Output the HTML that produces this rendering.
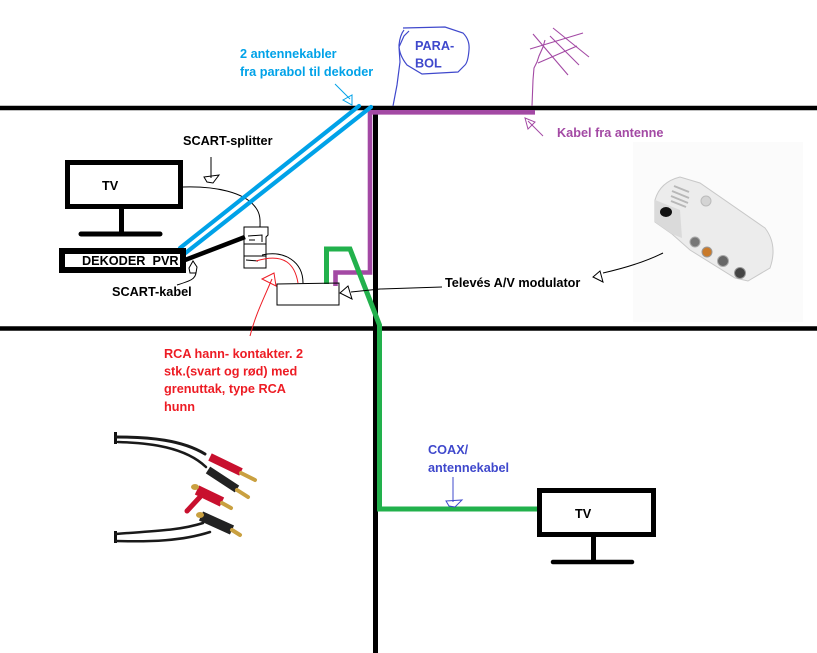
<!DOCTYPE html>
<html><head><meta charset="utf-8"><style>
html,body{margin:0;padding:0;background:#fff;}
svg{display:block;}
text{font-family:"Liberation Sans",sans-serif;font-weight:bold;font-size:12.7px;}
</style></head><body>
<svg width="817" height="653" viewBox="0 0 817 653" xmlns="http://www.w3.org/2000/svg">
<rect width="817" height="653" fill="#fff"/>
<!-- televes image background -->
<rect x="633" y="142" width="170" height="180" fill="#fbfbfb"/>

<!-- walls -->
<line x1="0" y1="108" x2="817" y2="108" stroke="#000" stroke-width="4.5"/>
<line x1="0" y1="328.5" x2="817" y2="328.5" stroke="#000" stroke-width="4.6"/>
<line x1="375.5" y1="106" x2="375.5" y2="653" stroke="#000" stroke-width="5"/>

<!-- purple cable -->
<polyline points="535,112.3 370,112.3 370,272.5 335.5,272.5 335.5,286" fill="none" stroke="#a349a4" stroke-width="4.6"/>

<!-- green cable -->
<polyline points="326.5,284 326.5,249 350,249 379.5,325 379.5,509 538,509" fill="none" stroke="#22b14c" stroke-width="5"/>

<!-- thin black curves -->
<path d="M183,187 C215,186 245,192 256,208 C261,215 260,222 260,227" fill="none" stroke="#000" stroke-width="1"/>
<path d="M262,255 C285,250 303,262 303,283" fill="none" stroke="#000" stroke-width="1"/>

<!-- splitter -->
<g fill="none" stroke="#000" stroke-width="1">
<path d="M244,227 L268,227 L268,235 L266,237 L266,268 L244,268 Z"/>
<line x1="244" y1="244" x2="266" y2="244"/>
<line x1="244" y1="256" x2="266" y2="256"/>
<path d="M248,236 L262,235 L262,242 M249,240 L255,240"/>
<path d="M246,260 L258,261"/>
</g>

<!-- red curve + arrow -->
<path d="M256,261 C285,252 295,265 298,283" fill="none" stroke="#ed1c24" stroke-width="1"/>
<path d="M250,336 C255,316 263,300 272,279" fill="none" stroke="#ed1c24" stroke-width="1"/>
<polygon points="262,279 274,273 276,286" fill="none" stroke="#ed1c24" stroke-width="1"/>

<!-- modulator box -->
<path d="M277,284 L339,283 L339,305 L277,305 Z" fill="none" stroke="#000" stroke-width="1"/>

<!-- blue cables -->
<line x1="180" y1="248" x2="359" y2="106" stroke="#00a2e8" stroke-width="4.2" stroke-linecap="round"/>
<line x1="185.5" y1="253" x2="371" y2="107" stroke="#00a2e8" stroke-width="4.2" stroke-linecap="round"/>

<!-- SCART cable thick -->
<line x1="185" y1="260" x2="245" y2="237" stroke="#000" stroke-width="4.5"/>

<!-- TV upper -->
<rect x="67.5" y="162.5" width="113" height="44" fill="none" stroke="#000" stroke-width="5"/>
<rect x="119" y="209" width="5" height="23" fill="#000"/>
<line x1="81" y1="234" x2="160" y2="234" stroke="#000" stroke-width="5" stroke-linecap="round"/>
<text x="102" y="190" font-size="12.5" fill="#000">TV</text>

<!-- decoder -->
<rect x="62" y="251" width="121" height="19" fill="#fff" stroke="#000" stroke-width="6"/>
<text x="82" y="265" font-size="11.8" fill="#000">DEKODER&#160;&#160;PVR</text>

<!-- TV lower -->
<rect x="539.5" y="490.5" width="114" height="44" fill="none" stroke="#000" stroke-width="5"/>
<rect x="591" y="537" width="5" height="24" fill="#000"/>
<line x1="553" y1="562" x2="632" y2="562" stroke="#000" stroke-width="4.5" stroke-linecap="round"/>
<text x="575" y="518" font-size="12.5" fill="#000">TV</text>

<!-- PARABOL -->
<path d="M393,106 L397,85 L400,62 L399,47 L404,36 L409,31 M403,28 L445,27 L463,33 Q470,40 469,50 Q468,62 465,65 L458,72 L422,74 L407,65 Q399,55 399,45 Q400,35 404,30" fill="none" stroke="#3f48cc" stroke-width="1.2"/>
<text x="415" y="50" fill="#3f48cc">PARA-</text>
<text x="415" y="67.5" fill="#3f48cc">BOL</text>

<!-- antenna -->
<g fill="none" stroke="#a349a4" stroke-width="1.1">
<path d="M532,106 L533,80 L534,68 L537,62 L539,56 L543,47 L545,40"/>
<path d="M530,49 L583,33"/>
<path d="M533,34 L568,75"/>
<path d="M553,28 L589,57"/>
<path d="M550,36 L579,65"/>
<path d="M538,63 L577,46"/>
</g>

<!-- blue label -->
<text x="240" y="58" fill="#00a2e8">2 antennekabler</text>
<text x="240" y="76" fill="#00a2e8">fra parabol til dekoder</text>
<path d="M335,84 L350,99" fill="none" stroke="#00a2e8" stroke-width="1"/>
<polygon points="343,100 352,95 352,105" fill="none" stroke="#00a2e8" stroke-width="1"/>

<!-- kabel fra antenne -->
<text x="557" y="137" fill="#a349a4">Kabel fra antenne</text>
<path d="M543,136 L528,121" fill="none" stroke="#a349a4" stroke-width="1"/>
<polygon points="525,118 535,122 528,129" fill="none" stroke="#a349a4" stroke-width="1"/>

<!-- SCART-splitter -->
<text x="183" y="145" fill="#000">SCART-splitter</text>
<path d="M211,157 L211,178" stroke="#000" stroke-width="1"/>
<polygon points="204,177 219,175 213,183 207,182" fill="none" stroke="#000" stroke-width="1"/>

<!-- SCART-kabel -->
<text x="112" y="296" fill="#000">SCART-kabel</text>
<path d="M196,272 C196,279 190,281 177,285" fill="none" stroke="#000" stroke-width="1"/>
<polygon points="189,268 193,261 197,267 196,273 190,273" fill="none" stroke="#000" stroke-width="1"/>

<!-- Televes label -->
<text x="445" y="287" fill="#000">Televés A/V modulator</text>
<path d="M442,287 L380,289 L351,292" fill="none" stroke="#000" stroke-width="1"/>
<polygon points="340,293 348,286 352,299" fill="none" stroke="#000" stroke-width="1"/>
<path d="M663,253 C645,262 625,268 603,273" fill="none" stroke="#000" stroke-width="1"/>
<polygon points="593,277 600,271 603,282" fill="none" stroke="#000" stroke-width="1"/>

<!-- Televes device -->
<path d="M655,200 Q660,182 680,177 L700,183 L765,228 Q778,245 770,268 L748,281 L735,278 L690,250 L672,234 L655,222 Z" fill="#ececec" stroke="#c8c8c8" stroke-width="1"/>
<path d="M655,200 L680,210 L682,238 L672,234 L655,222 Z" fill="#dadada"/>
<ellipse cx="666" cy="212" rx="6" ry="5" fill="#111"/>
<g stroke="#b8b8b8" stroke-width="2">
<line x1="674" y1="186" x2="689" y2="192"/>
<line x1="672" y1="191" x2="689" y2="198"/>
<line x1="671" y1="196" x2="688" y2="203"/>
<line x1="671" y1="201" x2="686" y2="207"/>
</g>
<circle cx="706" cy="201" r="5" fill="#d4d4d4" stroke="#bbb"/>
<circle cx="695" cy="242" r="5" fill="#777" stroke="#aaa"/>
<circle cx="707" cy="252" r="5" fill="#c97a2a" stroke="#999"/>
<circle cx="723" cy="261" r="5.5" fill="#666" stroke="#aaa"/>
<circle cx="740" cy="273" r="5.5" fill="#444" stroke="#999"/>

<!-- RCA label -->
<g fill="#ed1c24" font-size="12.2">
<text x="164" y="358" font-size="12.2">RCA hann- kontakter. 2</text>
<text x="164" y="375.5" font-size="12.2">stk.(svart og rød) med</text>
<text x="164" y="393" font-size="12.2">grenuttak, type RCA</text>
<text x="164" y="411" font-size="12.2">hunn</text>
</g>

<!-- RCA cables image -->
<g fill="none" stroke-linecap="round">
<rect x="114" y="432" width="3" height="12" fill="#111" stroke="none"/>
<path d="M116,437 C150,437 182,440 205,454" stroke="#1a1a1a" stroke-width="3"/>
<path d="M118,442 C150,443 185,447 206,467" stroke="#1a1a1a" stroke-width="2.5"/>
<line x1="210" y1="457" x2="241" y2="472" stroke="#c8102e" stroke-width="8" stroke-linecap="butt"/>
<line x1="241" y1="473" x2="255" y2="480" stroke="#c9a040" stroke-width="4"/>
<line x1="208" y1="470" x2="237" y2="489" stroke="#222" stroke-width="8" stroke-linecap="butt"/>
<line x1="237" y1="490" x2="248" y2="497" stroke="#c9a040" stroke-width="4"/>
<line x1="197" y1="490" x2="222" y2="502" stroke="#c8102e" stroke-width="10" stroke-linecap="butt"/>
<line x1="200" y1="497" x2="187" y2="511" stroke="#c8102e" stroke-width="5"/>
<ellipse cx="195" cy="487" rx="4" ry="3" fill="#c9a040" stroke="none"/>
<line x1="222" y1="503" x2="231" y2="508" stroke="#c9a040" stroke-width="4"/>
<line x1="201" y1="516" x2="232" y2="530" stroke="#222" stroke-width="10" stroke-linecap="butt"/>
<ellipse cx="200" cy="515" rx="4" ry="3" fill="#c9a040" stroke="none"/>
<line x1="232" y1="530" x2="240" y2="535" stroke="#c9a040" stroke-width="4"/>
<rect x="114" y="531" width="3" height="12" fill="#111" stroke="none"/>
<path d="M116,534 C150,531 178,531 203,523" stroke="#1a1a1a" stroke-width="2.5"/>
<path d="M116,541 C150,542 182,541 210,532" stroke="#1a1a1a" stroke-width="2.5"/>
</g>

<!-- COAX -->
<text x="428" y="454" fill="#3f48cc">COAX/</text>
<text x="428" y="472" fill="#3f48cc">antennekabel</text>
<path d="M453,477 L453,502" stroke="#3f48cc" stroke-width="1"/>
<polygon points="446,501 462,500 455,507 449,506" fill="none" stroke="#3f48cc" stroke-width="1"/>
</svg>
</body></html>
